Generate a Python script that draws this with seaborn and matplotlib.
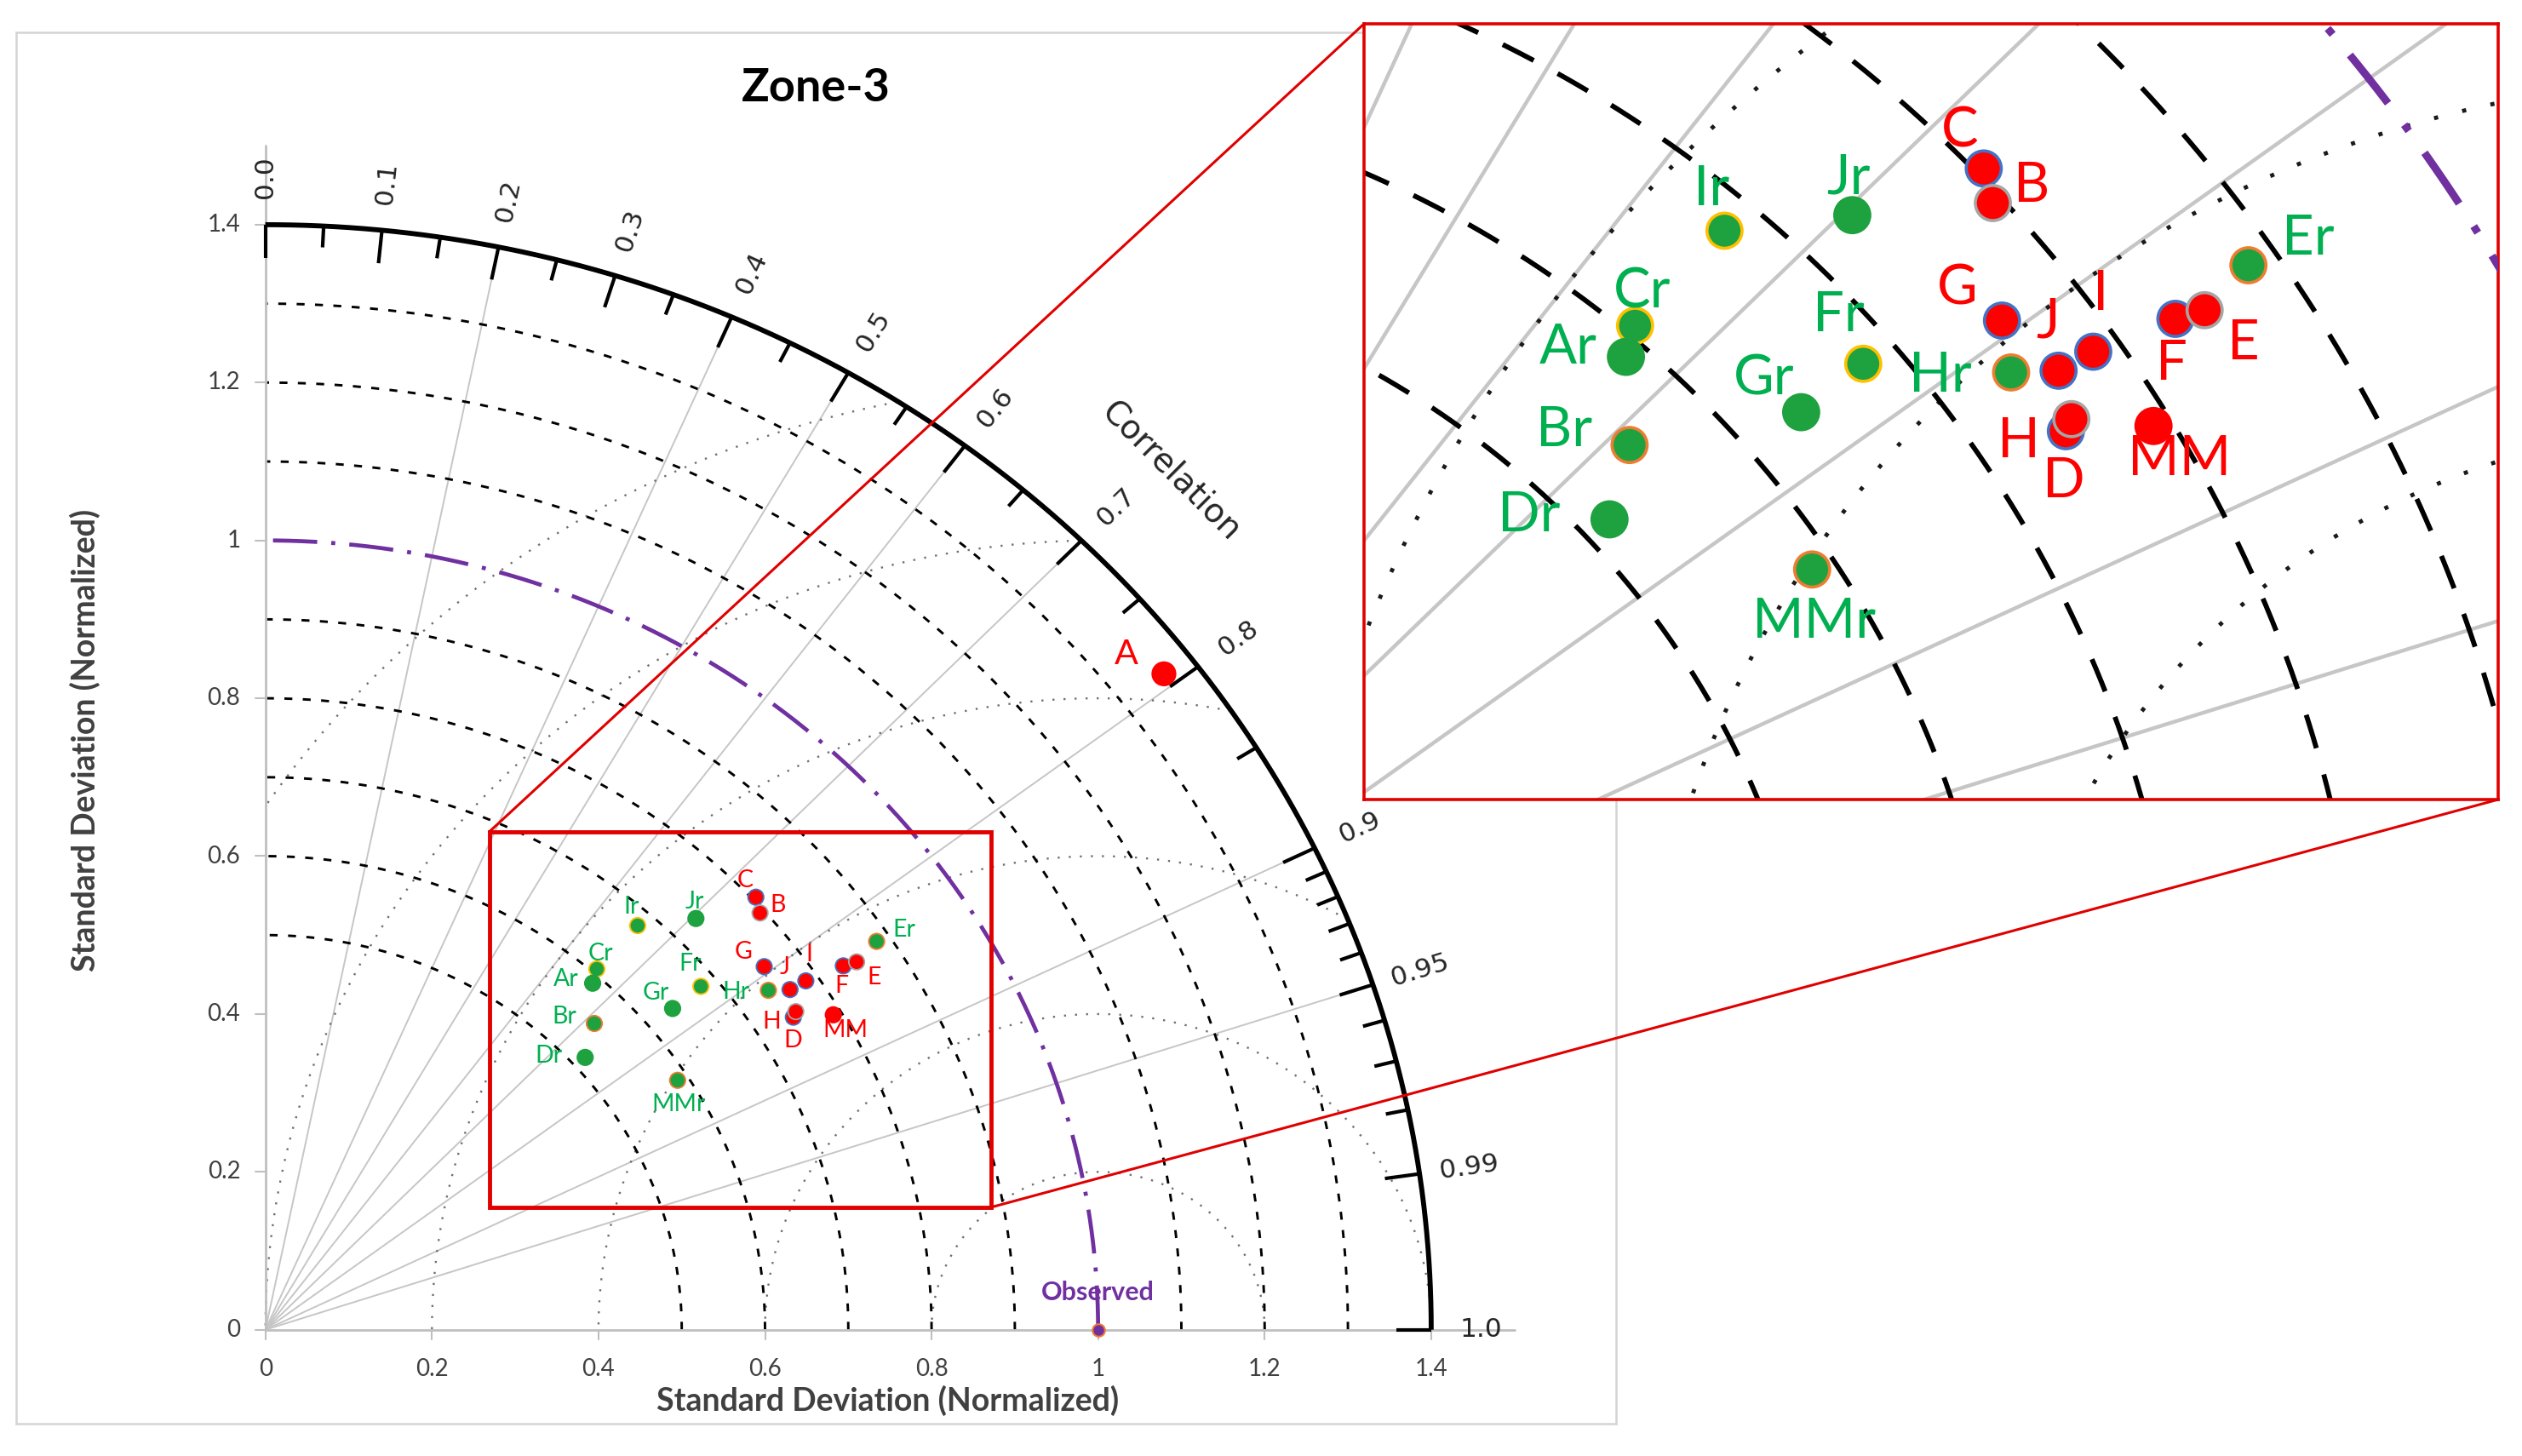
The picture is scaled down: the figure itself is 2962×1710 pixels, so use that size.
import numpy as np
import pandas as pd
import seaborn as sns
import matplotlib.pyplot as plt
from matplotlib.patches import Rectangle, ConnectionPatch

# points (normalized std-dev split into x / y components)
names = ["Ir", "Jr", "Cr", "Ar", "Br", "Dr", "Gr", "Fr", "Hr", "MMr", "Er",
         "C", "B", "G", "J", "I", "D", "H", "F", "E", "MM", "A"]
sd_x = [0.447, 0.517, 0.398, 0.393, 0.395, 0.384, 0.489, 0.523, 0.604, 0.495, 0.734,
        0.589, 0.594, 0.599, 0.630, 0.649, 0.634, 0.637, 0.694, 0.710, 0.682, 1.079]
sd_y = [0.512, 0.521, 0.457, 0.439, 0.388, 0.345, 0.407, 0.435, 0.430, 0.316, 0.492,
        0.548, 0.528, 0.460, 0.431, 0.442, 0.396, 0.403, 0.461, 0.466, 0.399, 0.831]
kind = ["ref"] * 11 + ["model"] * 11
edge = ["yellow", "none", "yellow", "none", "orange", "none", "none", "yellow", "orange", "orange", "orange",
        "blue", "grey", "blue", "blue", "blue", "blue", "grey", "blue", "grey", "none", "none"]

obs_x = [1.0]
obs_y = [0.0]

std_ticks = [0, 0.2, 0.4, 0.6, 0.8, 1.0, 1.2, 1.4]
corr_major = [0.0, 0.1, 0.2, 0.3, 0.4, 0.5, 0.6, 0.7, 0.8, 0.9, 0.95, 0.99, 1.0]
corr_labels = ["0.0", "0.1", "0.2", "0.3", "0.4", "0.5", "0.6", "0.7", "0.8", "0.9", "0.95", "0.99", "1.0"]
corr_minor = [0.05, 0.15, 0.25, 0.35, 0.45, 0.55, 0.65, 0.75, 0.85,
              0.91, 0.92, 0.93, 0.94, 0.96, 0.97, 0.98]
corr_lines = [0.2, 0.4, 0.5, 0.6, 0.7, 0.8, 0.9, 0.95]
std_arcs = [0.5, 0.6, 0.7, 0.8, 0.9, 1.1, 1.2, 1.3]
rms_arcs = [0.2, 0.4, 0.6, 0.8, 1.0, 1.2]
R_MAX = 1.4

# label offsets (pixels in the main chart, +y is down)
label_off = {"Ir": (-7, -22), "Jr": (-2, -20), "Cr": (4, -18), "Ar": (-31, -5), "Br": (-35, -8),
             "Dr": (-43, -2), "Gr": (-20, -18), "Fr": (-13, -26), "Hr": (-38, 2), "MMr": (1, 28),
             "Er": (32, -14), "C": (-13, -20), "B": (21, -9), "G": (-24, -17), "J": (-6, -26),
             "I": (4, -31), "H": (-28, 12), "D": (-1, 27), "F": (-2, 24), "E": (21, 18),
             "MM": (14, 18), "A": (-44, -23)}

GREEN_PT = "#1ea23f"
GREEN_TX = "#00b050"
RED = "#ff0000"
PURPLE = "#7030a0"
EDGES = {"yellow": "#ffc000", "orange": "#ed7d31", "blue": "#4472c4", "grey": "#a5a5a5"}
GRID = "#c6c6c6"
TXT = "#404040"

W, H = 2962, 1710
# main chart pixel mapping
OX, OY, SX, SY = 311.7, 1561.7, 978.0, 927.0
FRAME = (19, 38, 1898, 1672)
# inset pixel mapping
IX, IY, ISX, ISY = 1067.0, 1310.3, 2144.0, 2030.0
INSET = (1602, 28, 2934, 939)
ZOOM_BOX = (0.269, 0.155, 0.871, 0.631)

sns.set_theme(style="white")
plt.rcParams['font.family'] = ['Lato', 'DejaVu Sans']

df = pd.DataFrame({"name": names, "sd_x": sd_x, "sd_y": sd_y, "kind": kind, "edge": edge})
df["big"] = df["name"] == "A"
df["ec"] = [EDGES.get(e, GREEN_PT if k == "ref" else RED) for e, k in zip(df["edge"], df["kind"])]


def add_axes_px(fig, box, ox, oy, sx, sy):
    x0, y0, x1, y1 = box
    ax = fig.add_axes([x0 / W, 1 - y1 / H, (x1 - x0) / W, (y1 - y0) / H])
    ax.set_xlim((x0 - ox) / sx, (x1 - ox) / sx)
    ax.set_ylim((oy - y1) / sy, (oy - y0) / sy)
    ax.set_xticks([])
    ax.set_yticks([])
    return ax


def draw_grid(ax, st):
    t = np.linspace(0, np.pi / 2, 500)
    for c in corr_lines:
        s = np.sqrt(1 - c * c)
        ax.plot([0, R_MAX * c], [0, R_MAX * s], color=GRID, lw=st["radial"], zorder=1)
    tt = np.linspace(0, np.pi, 1500)
    for r in rms_arcs:
        x = 1 + r * np.cos(tt)
        y = r * np.sin(tt)
        bad = (x ** 2 + y ** 2 > R_MAX ** 2) | (x < 0)
        x[bad] = np.nan
        ax.plot(x, y, color=st["dot_c"], lw=st["dot"], ls=st["dot_ls"], zorder=2)
    for r in std_arcs:
        ax.plot(r * np.cos(t), r * np.sin(t), color="black", lw=st["dash"], ls=st["dash_ls"], zorder=2)
    ax.plot(np.cos(t), np.sin(t), color=PURPLE, lw=st["purple"], ls=st["purple_ls"], zorder=3)


def draw_points(ax, sizes, lw, fs, k):
    sns.scatterplot(data=df, x="sd_x", y="sd_y", hue="kind", palette={"ref": GREEN_PT, "model": RED},
                    size="big", sizes=sizes, edgecolor=df["ec"].tolist(), linewidth=lw,
                    legend=False, ax=ax, zorder=5)
    for _, row in df.iterrows():
        dx, dy = label_off[row["name"]]
        ax.annotate(row["name"], (row["sd_x"], row["sd_y"]),
                    xytext=(dx * 0.72 * k, -dy * 0.72 * k), textcoords="offset points",
                    ha="center", va="center",
                    fontsize=fs * (1.45 if row["big"] else 1.0),
                    color=GREEN_TX if row["kind"] == "ref" else RED, zorder=6,
                    annotation_clip=True)
    ax.set_xlabel("")
    ax.set_ylabel("")


fig = plt.figure(figsize=(W / 100, H / 100), dpi=100)
ax = add_axes_px(fig, FRAME, OX, OY, SX, SY)
for sp in ax.spines.values():
    sp.set_color("#d4d4d4")
    sp.set_linewidth(1.8)

main_style = dict(radial=1.4, dot=1.7, dot_c="#707070", dot_ls=(0, (1, 4.5)),
                  dash=2.1, dash_ls=(0, (3.2, 4.2)), purple=3.4, purple_ls=(0, (11, 3.5, 1, 3.5)))
draw_grid(ax, main_style)

# std-dev axes
ax.plot([0, 1.5], [0, 0], color="#bfbfbf", lw=2.0, zorder=2)
ax.plot([0, 0], [0, 1.5], color="#bfbfbf", lw=2.0, zorder=2)
for v in std_ticks:
    ax.plot([-0.012, 0], [v, v], color="#bfbfbf", lw=1.5, zorder=2)
    ax.plot([v, v], [-0.012, 0], color="#bfbfbf", lw=1.5, zorder=2)
    ax.text(-0.03, v, f"{v:g}", ha="right", va="center", fontsize=20, color=TXT)
    ax.text(v, -0.05, f"{v:g}", ha="center", va="center", fontsize=20, color=TXT)

# correlation arc with ticks and labels
t = np.linspace(0, np.pi / 2, 500)
ax.plot(R_MAX * np.cos(t), R_MAX * np.sin(t), color="black", lw=4.2, zorder=4, solid_capstyle="butt")
for c in corr_major + corr_minor:
    L = 0.042 if c in corr_major else 0.027
    s = np.sqrt(1 - c * c)
    ax.plot([R_MAX * c, (R_MAX - L) * c], [R_MAX * s, (R_MAX - L) * s], color="black",
            lw=3.0, zorder=4, solid_capstyle="butt")
for c, lab in zip(corr_major, corr_labels):
    s = np.sqrt(1 - c * c)
    rot = np.degrees(np.arctan2(s * SY, c * SX))
    ax.text(1.46 * c, 1.46 * s, lab, rotation=rot, rotation_mode="anchor", ha="center",
            va="center", fontsize=22.5, color="#262626", family=["DejaVu Sans"])
ax.text(1.088, 1.0875, "Correlation", rotation=-45, rotation_mode="anchor", ha="center",
        va="center", fontsize=28, color="#262626", family=["DejaVu Sans"])

# observed reference
obs = pd.DataFrame({"sd_x": obs_x, "sd_y": obs_y})
sns.scatterplot(data=obs, x="sd_x", y="sd_y", color=PURPLE, edgecolor=EDGES["orange"],
                s=110, linewidth=1.5, ax=ax, zorder=6, legend=False)
ax.text(obs_x[0], obs_y[0] + 0.047, "Observed", ha="center", va="center", fontsize=22,
        fontweight="bold", color=PURPLE, zorder=6)

draw_points(ax, {False: 175, True: 390}, 1.3, 20.5, 1.0)

ax.text(0.747, -0.09, "Standard Deviation (Normalized)", ha="center", va="center",
        fontsize=27, fontweight="bold", color=TXT)
ax.text(-0.2166, 0.747, "Standard Deviation (Normalized)", ha="center", va="center",
        rotation=90, fontsize=27, fontweight="bold", color=TXT)
ax.text(0.661, 1.5725, "Zone-3", ha="center", va="center", fontsize=39, fontweight="bold",
        color="black")

# zoom box
bx0, by0, bx1, by1 = ZOOM_BOX
ax.add_patch(Rectangle((bx0, by0), bx1 - bx0, by1 - by0, fill=False, edgecolor="#e00000",
                       lw=3.5, zorder=7))

# inset
axi = add_axes_px(fig, INSET, IX, IY, ISX, ISY)
axi.set_facecolor("white")
for sp in axi.spines.values():
    sp.set_color("#e00000")
    sp.set_linewidth(2.6)
inset_style = dict(radial=3.2, dot=3.5, dot_c="#1a1a1a", dot_ls=(0, (1, 6)),
                   dash=4.2, dash_ls=(0, (7, 5.5)), purple=6.5, purple_ls=(0, (8, 3.5, 1, 3.5)))
draw_grid(axi, inset_style)
draw_points(axi, {False: 880, True: 880}, 2.6, 47, ISX / SX)

for xyA, xyB in [((bx0, by1), (0, 1)), ((bx1, by0), (1, 0))]:
    con = ConnectionPatch(xyA=xyA, coordsA=ax.transData, xyB=xyB, coordsB=axi.transAxes,
                          color="#e00000", lw=2.2, zorder=8)
    fig.add_artist(con)

fig.savefig("out.png", dpi=100, facecolor="white")
